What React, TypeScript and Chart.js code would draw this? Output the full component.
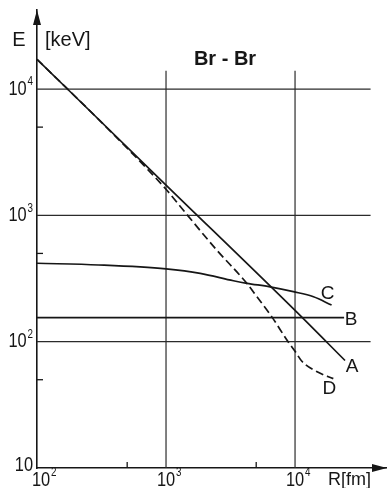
import { useEffect, useRef } from "react";
import { Chart, registerables } from "chart.js";

Chart.register(...registerables);

// Distance R [fm] and energy E [keV] along each curve
const rA = [100, 1000, 10000, 24400];
const eA = [17200, 1740, 177, 71];
const rB = [100, 24000];
const eB = [155, 155];
const rC = [100, 300, 1000, 1840, 3330, 4230, 6400, 9700, 13900, 19200];
const eC = [418, 405, 377, 348, 304, 290, 272, 249, 227, 195];
const rD = [100, 300, 1000, 1470, 2470, 4230, 5050, 6590, 8830, 10000, 11300, 14700, 19800];
const eD = [17200, 5750, 1610, 1000, 532, 290, 228, 158, 100, 84, 70, 58, 51];

const curveNames = ["A", "B", "C", "D"];

// Axis ticks, minor tick marks and grid lines
const xTicks = [100, 1000, 10000];
const yTicks = [10, 100, 1000, 10000];
const xMinor = [500, 5000];
const yMinor = [50, 500, 5000];
const xGrid = [1000, 10000];
const yGrid = [100, 1000, 10000];

const X_MIN = 100;
const X_MAX = 50700;
const Y_MIN = 10;
const Y_MAX = 42300;
const GRID_X_END = 38500;
const GRID_Y_END = 14000;

const FONT = "'Liberation Sans', Arial, sans-serif";
const INK = "#161616";
const SQUEEZE = 0.82; // narrow lettering for the powers of ten

// pixel offsets of each curve name from the curve's last point
const nameOffsets = [
  [7, 6],
  [7, 2],
  [-4, -11],
  [-4, 10],
];

const toPoints = (xs: number[], ys: number[]) => xs.map((x, i) => ({ x, y: ys[i] }));

const exponentOf = (value: number) => Math.round(Math.log10(value));

// "10" with a raised exponent, left edge at `left`, vertically centred on `cy`
function drawPower(ctx: CanvasRenderingContext2D, value: number, left: number, cy: number) {
  const exp = exponentOf(value);
  ctx.save();
  ctx.translate(left, cy);
  ctx.scale(SQUEEZE, 1);
  ctx.textAlign = "left";
  ctx.textBaseline = "middle";
  ctx.font = `20px ${FONT}`;
  ctx.fillText("10", 0, 0);
  if (exp !== 1) {
    const bw = ctx.measureText("10").width;
    ctx.font = `12px ${FONT}`;
    ctx.fillText(String(exp), bw + 1, -7);
  }
  ctx.restore();
}

function powerWidth(ctx: CanvasRenderingContext2D, value: number) {
  const exp = exponentOf(value);
  ctx.save();
  ctx.font = `20px ${FONT}`;
  let w = ctx.measureText("10").width;
  if (exp !== 1) {
    ctx.font = `12px ${FONT}`;
    w += 1 + ctx.measureText(String(exp)).width;
  }
  ctx.restore();
  return w * SQUEEZE;
}

function baseWidth(ctx: CanvasRenderingContext2D) {
  ctx.save();
  ctx.font = `20px ${FONT}`;
  const w = ctx.measureText("10").width * SQUEEZE;
  ctx.restore();
  return w;
}

const decorations = {
  id: "decorations",
  beforeDatasetsDraw(chart: any) {
    const { ctx, scales } = chart;
    const x = scales.x;
    const y = scales.y;
    ctx.save();
    ctx.strokeStyle = "#2b2b2b";
    ctx.lineWidth = 1.2;
    const left = x.getPixelForValue(X_MIN);
    const right = x.getPixelForValue(GRID_X_END);
    yGrid.forEach((v) => {
      const py = y.getPixelForValue(v);
      ctx.beginPath();
      ctx.moveTo(left, py);
      ctx.lineTo(right, py);
      ctx.stroke();
    });
    const bottom = y.getPixelForValue(Y_MIN);
    const top = y.getPixelForValue(GRID_Y_END);
    xGrid.forEach((v) => {
      const px = x.getPixelForValue(v);
      ctx.beginPath();
      ctx.moveTo(px, bottom);
      ctx.lineTo(px, top);
      ctx.stroke();
    });
    ctx.restore();
  },
  afterDraw(chart: any) {
    const { ctx, scales, chartArea } = chart;
    const x = scales.x;
    const y = scales.y;
    const ox = x.getPixelForValue(X_MIN);
    const oy = y.getPixelForValue(Y_MIN);
    ctx.save();

    // minor tick marks on both axes
    ctx.strokeStyle = INK;
    ctx.lineWidth = 1.3;
    yMinor.forEach((v) => {
      const py = y.getPixelForValue(v);
      ctx.beginPath();
      ctx.moveTo(ox, py);
      ctx.lineTo(ox + 6, py);
      ctx.stroke();
    });
    xMinor.forEach((v) => {
      const px = x.getPixelForValue(v);
      ctx.beginPath();
      ctx.moveTo(px, oy);
      ctx.lineTo(px, oy - 6);
      ctx.stroke();
    });

    // arrow heads
    ctx.fillStyle = INK;
    ctx.beginPath();
    ctx.moveTo(ox, chartArea.top);
    ctx.lineTo(ox - 4, chartArea.top + 15);
    ctx.lineTo(ox + 4, chartArea.top + 15);
    ctx.closePath();
    ctx.fill();
    ctx.beginPath();
    ctx.moveTo(chartArea.right + 1, oy);
    ctx.lineTo(chartArea.right - 14, oy - 4);
    ctx.lineTo(chartArea.right - 14, oy + 4);
    ctx.closePath();
    ctx.fill();

    // tick labels, powers of ten
    ctx.fillStyle = INK;
    const bw = baseWidth(ctx);
    y.ticks.forEach((t: any) => {
      const py = y.getPixelForValue(t.value);
      drawPower(ctx, t.value, ox - 4 - powerWidth(ctx, t.value), Math.min(py, oy - 3));
    });
    x.ticks.forEach((t: any) => {
      const px = x.getPixelForValue(t.value);
      drawPower(ctx, t.value, Math.max(px - bw / 2, ox - 5), oy + 12);
    });

    // axis titles and heading
    ctx.textBaseline = "middle";
    ctx.font = `20px ${FONT}`;
    ctx.textAlign = "center";
    ctx.fillText("E", 19, 40);
    ctx.textAlign = "left";
    ctx.fillText("[keV]", 45, 40);
    ctx.font = `bold 20px ${FONT}`;
    ctx.textAlign = "center";
    ctx.fillText("Br - Br", 225, 59);
    ctx.font = `18px ${FONT}`;
    ctx.textAlign = "left";
    ctx.fillText("R[fm]", 328, 480);

    // curve names next to their ends
    ctx.font = `19px ${FONT}`;
    ctx.textAlign = "center";
    curveNames.forEach((name, i) => {
      const pts = chart.getDatasetMeta(i).data;
      const last = pts[pts.length - 1];
      ctx.fillText(name, last.x + nameOffsets[i][0], last.y + nameOffsets[i][1]);
    });
    ctx.restore();
  },
};

export default function App() {
  const canvasRef = useRef<HTMLCanvasElement | null>(null);

  useEffect(() => {
    if (!canvasRef.current) return;
    const line = {
      borderColor: INK,
      borderWidth: 1.7,
      pointRadius: 0,
      fill: false,
      cubicInterpolationMode: "monotone" as const,
    };
    const chart = new Chart(canvasRef.current, {
      type: "line",
      data: {
        datasets: [
          { label: curveNames[0], data: toPoints(rA, eA), ...line },
          { label: curveNames[1], data: toPoints(rB, eB), ...line },
          { label: curveNames[2], data: toPoints(rC, eC), ...line },
          { label: curveNames[3], data: toPoints(rD, eD), ...line, borderDash: [8, 4] },
        ],
      },
      options: {
        responsive: false,
        animation: false,
        devicePixelRatio: 1,
        layout: { padding: { top: 10, right: 1, left: 0, bottom: 0 } },
        plugins: { legend: { display: false }, tooltip: { enabled: false }, title: { display: false } },
        scales: {
          x: {
            type: "logarithmic",
            min: X_MIN,
            max: X_MAX,
            afterBuildTicks: (s: any) => {
              s.ticks = xTicks.map((v) => ({ value: v }));
            },
            afterFit: (s: any) => {
              s.height = 20;
              s.paddingLeft = 0;
              s.paddingRight = 0;
            },
            ticks: { display: false },
            grid: { display: false, drawTicks: false },
            border: { display: true, color: INK, width: 1.6 },
          },
          y: {
            type: "logarithmic",
            min: Y_MIN,
            max: Y_MAX,
            afterBuildTicks: (s: any) => {
              s.ticks = yTicks.map((v) => ({ value: v }));
            },
            afterFit: (s: any) => {
              s.width = 37;
              s.paddingTop = 0;
              s.paddingBottom = 0;
            },
            ticks: { display: false },
            grid: { display: false, drawTicks: false },
            border: { display: true, color: INK, width: 1.6 },
          },
        },
      },
      plugins: [decorations],
    });
    return () => chart.destroy();
  }, []);

  return (
    <div style={{ position: "absolute", left: 0, top: 0, width: 387, height: 488, background: "#fff" }}>
      <canvas ref={canvasRef} width={387} height={488} style={{ display: "block" }} />
    </div>
  );
}
